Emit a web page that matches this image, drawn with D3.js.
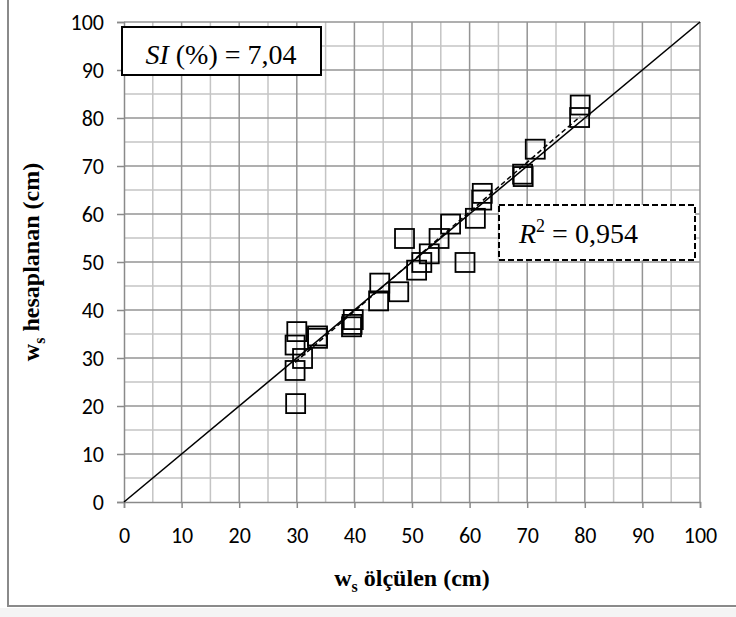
<!DOCTYPE html>
<html>
<head>
<meta charset="utf-8">
<style>
  body { margin: 0; background: #fff; }
</style>
</head>
<body>
<script src="https://cdn.jsdelivr.net/npm/d3@7"></script>
<script>
const measured = [29.8, 29.7, 31.0, 29.7, 30.0, 33.6, 33.6, 39.5, 39.6, 39.8, 44.2, 44.4, 47.7, 48.7, 50.8,
                  51.7, 53.0, 54.7, 56.7, 59.2, 61.0, 62.1, 62.2, 69.2, 69.3, 71.4, 79.1, 79.2];
const computed = [20.5, 27.4, 29.9, 32.7, 35.5, 34.6, 34.1, 36.5, 37.0, 38.0, 41.9, 45.6, 43.8, 54.9, 48.3,
                  49.9, 51.7, 54.9, 57.9, 49.9, 59.1, 62.9, 64.3, 68.3, 67.8, 73.5, 80.1, 82.7];
// trend line ends (dashed)
const trendX = [29.7, 79.2];
const trendY = [29.1, 80.3];
const tickValues = [0, 10, 20, 30, 40, 50, 60, 70, 80, 90, 100];
const minorValues = [5, 15, 25, 35, 45, 55, 65, 75, 85, 95];

const SERIF = "'Liberation Serif', 'Times New Roman', serif";
const SANS = "Carlito, Calibri, 'Open Sans', sans-serif";

const W = 736, H = 617;
const svg = d3.select("body").append("svg").attr("width", W).attr("height", H);

// frame of the chart object
svg.append("rect").attr("x", 0).attr("y", 608).attr("width", W).attr("height", 9).attr("fill", "#f4f4f4");
svg.append("path").attr("d", "M8,0 V606 H736").attr("fill", "none").attr("stroke", "#8a8a8a").attr("stroke-width", 2);

const x = d3.scaleLinear().domain([0, 100]).range([124, 700]);
const y = d3.scaleLinear().domain([0, 100]).range([502, 22]);

const grid = svg.append("g");
// minor grid
grid.selectAll("line.mx").data(minorValues).enter().append("line")
  .attr("x1", d => x(d)).attr("x2", d => x(d)).attr("y1", y(0)).attr("y2", y(100))
  .attr("stroke", "#c4c4c4").attr("stroke-width", 1.5);
grid.selectAll("line.my").data(minorValues).enter().append("line")
  .attr("y1", d => y(d)).attr("y2", d => y(d)).attr("x1", x(0)).attr("x2", x(100))
  .attr("stroke", "#c4c4c4").attr("stroke-width", 1.5);
// major grid
grid.selectAll("line.gx").data(tickValues.slice(1)).enter().append("line")
  .attr("x1", d => x(d)).attr("x2", d => x(d)).attr("y1", y(0)).attr("y2", y(100))
  .attr("stroke", "#949494").attr("stroke-width", 1.5);
grid.selectAll("line.gy").data(tickValues.slice(1)).enter().append("line")
  .attr("y1", d => y(d)).attr("y2", d => y(d)).attr("x1", x(0)).attr("x2", x(100))
  .attr("stroke", "#949494").attr("stroke-width", 1.5);

// axes
const xAxis = svg.append("g").attr("transform", `translate(0,${y(0)})`)
  .call(d3.axisBottom(x).tickValues(tickValues).tickSize(6).tickPadding(19));
const yAxis = svg.append("g").attr("transform", `translate(${x(0)},0)`)
  .call(d3.axisLeft(y).tickValues(tickValues).tickSize(7).tickPadding(13));
[xAxis, yAxis].forEach(a => {
  a.attr("font-family", SANS).attr("font-size", 22);
  a.select(".domain").attr("stroke", "#8a8a8a").attr("stroke-width", 1.5);
  a.selectAll(".tick line").attr("stroke", "#8a8a8a").attr("stroke-width", 1.5);
  a.selectAll(".tick text").attr("fill", "#000");
});

// 1:1 line
svg.append("line")
  .attr("x1", x(0)).attr("y1", y(0)).attr("x2", x(100)).attr("y2", y(100))
  .attr("stroke", "#000").attr("stroke-width", 1.6);

// trend line
svg.append("line")
  .attr("x1", x(trendX[0])).attr("y1", y(trendY[0])).attr("x2", x(trendX[1])).attr("y2", y(trendY[1]))
  .attr("stroke", "#000").attr("stroke-width", 1.5).attr("stroke-dasharray", "5,3");

// points
const s = 19;
svg.append("g").selectAll("rect").data(measured).enter().append("rect")
  .attr("x", (d, i) => x(d) - s / 2).attr("y", (d, i) => y(computed[i]) - s / 2)
  .attr("width", s).attr("height", s)
  .attr("fill", "none").attr("stroke", "#000").attr("stroke-width", 1.8);

// SI box
svg.append("rect").attr("x", 122).attr("y", 27).attr("width", 199).attr("height", 48)
  .attr("fill", "#fff").attr("stroke", "#000").attr("stroke-width", 2);
const si = svg.append("text").attr("x", 221).attr("y", 64).attr("text-anchor", "middle")
  .attr("font-family", SERIF).attr("font-size", 28);
si.append("tspan").attr("font-style", "italic").text("SI");
si.append("tspan").text(" (%) = 7,04");

// R2 box
svg.append("rect").attr("x", 499).attr("y", 205).attr("width", 196).attr("height", 55)
  .attr("fill", "#fff").attr("stroke", "#000").attr("stroke-width", 2).attr("stroke-dasharray", "6,3");
const r2 = svg.append("text").attr("x", 519).attr("y", 243)
  .attr("font-family", SERIF).attr("font-size", 28);
r2.append("tspan").attr("font-style", "italic").text("R");
r2.append("tspan").attr("font-size", 18).attr("dy", -11).text("2");
r2.append("tspan").attr("dy", 11).text(" = 0,954");

// axis titles
const xt = svg.append("text").attr("x", x(50)).attr("y", 586).attr("text-anchor", "middle")
  .attr("font-family", SERIF).attr("font-size", 24).attr("font-weight", "bold");
xt.append("tspan").text("w");
xt.append("tspan").attr("font-size", 16).attr("dy", 6).text("s");
xt.append("tspan").attr("dy", -6).text(" ölçülen (cm)");

const yt = svg.append("text")
  .attr("transform", `translate(39,${y(50)}) rotate(-90)`).attr("text-anchor", "middle")
  .attr("font-family", SERIF).attr("font-size", 24).attr("font-weight", "bold");
yt.append("tspan").text("w");
yt.append("tspan").attr("font-size", 16).attr("dy", 6).text("s");
yt.append("tspan").attr("dy", -6).text(" hesaplanan (cm)");
</script>
</body>
</html>
